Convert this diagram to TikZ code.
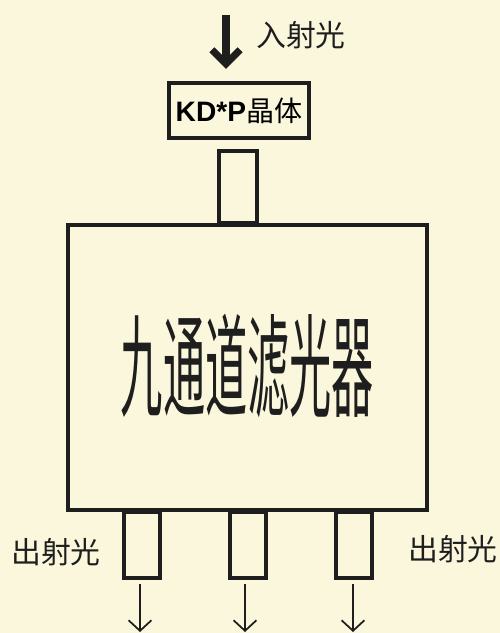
\documentclass[tikz,border=0pt]{standalone}
\usepackage{fontspec}
\setmainfont{Liberation Sans}
\newfontfamily\cjk{Noto Sans CJK SC}
\usetikzlibrary{arrows.meta}
\definecolor{paper}{HTML}{FAF7DC}
\definecolor{ink}{HTML}{1E1E1E}

\begin{document}
\begin{tikzpicture}[x=0.02cm, y=-0.02cm,
  box/.style={draw=ink, line width=2.5pt, inner sep=0pt},
  port/.style={box, minimum width=0.72cm, minimum height=1.32cm},
  inarrow/.style={draw=ink, line width=4pt, -{Straight Barb[length=8pt,width=16pt]}},
  outarrow/.style={draw=ink, line width=1pt, -{Straight Barb[length=6pt,width=13pt]}},
  lbl/.style={text=ink, font=\cjk\fontsize{17}{20}\selectfont}]
\useasboundingbox[fill=paper] (0,0) rectangle (500,633);

\node[box, minimum width=2.8cm, minimum height=1.1cm] (kdp) at (239,110.5)
  {\fontsize{16}{19}\selectfont\bfseries KD*P{\cjk\mdseries 晶体}};
\node[box, minimum width=0.76cm, minimum height=1.44cm] (inport) at (238,187) {};
\node[box, minimum width=7.18cm, minimum height=5.7cm] (filter) at (247.5,367.5) {};
\node[text=ink] (title) at (247.5,366.5)
  {\scalebox{0.98}[2.6]{\cjk\fontsize{24.5}{28}\selectfont 九通道滤光器}};

\node[port] (p1) at (142,545) {};
\node[port] (p2) at (248,545) {};
\node[port] (p3) at (354,545) {};

\coordinate (in0) at (226,15);
\draw[inarrow, shorten >=0.24cm] (in0) -- (in0 |- kdp.north);
\node[lbl] (inlbl) at (301,35) {入射光};

\foreach \i/\x in {1/140,2/245,3/353} {
  \coordinate (out\i) at (\x,632);
  \draw[outarrow, shorten <=0.08cm] (p\i.south -| out\i) -- (out\i);
}
\node[lbl] (outlbl1) at (56,552) {出射光};
\node[lbl] (outlbl2) at (453,549) {出射光};
\end{tikzpicture}
\end{document}
